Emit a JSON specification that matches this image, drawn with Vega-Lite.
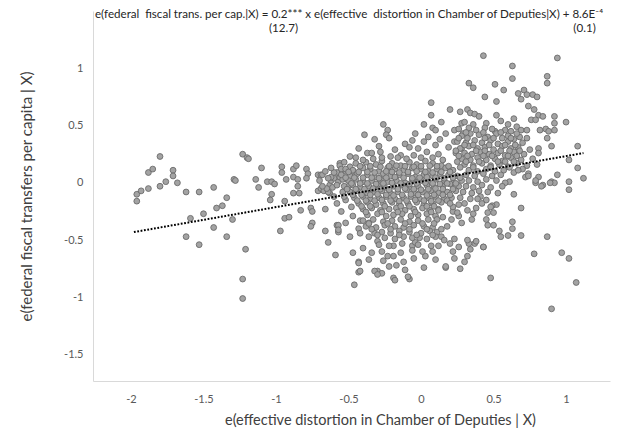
{
  "$schema": "https://vega.github.io/schema/vega-lite/v6.json",
  "width": 517,
  "height": 370,
  "autosize": {"type": "none"},
  "padding": {"left": 93, "top": 11, "right": 14, "bottom": 63},
  "background": "white",
  "config": {
    "view": {"stroke": null},
    "font": "Lato"
  },
  "title": {
    "text": "e(federal\u00a0 fiscal trans. per cap.|X) = 0.2*** x e(effective\u00a0 distortion in Chamber of Deputies|X) + 8.6E\u207b\u2074",
    "subtitle": "\u200b\u2003\u2003\u2003\u2003\u2003\u2003\u2003\u2003\u2003\u2003\u2003\u2003\u2003\u2003\u2003\u2003\u2003\u2003\u2003\u2003(12.7)\u2003\u2003\u2003\u2003\u2003\u2003\u2003\u2003\u2003\u2003\u2003\u2003\u2003\u2003\u2003\u2003\u2003\u2003\u2003\u2003\u2003\u2003\u2003\u2003\u2003\u2003\u2003\u2003\u2003\u2003\u2003\u2002(0.1)",
    "anchor": "start",
    "frame": "group",
    "offset": 0,
    "dx": 2,
    "dy": 24,
    "font": "Lato",
    "fontSize": 11.6,
    "fontWeight": "normal",
    "color": "#262626",
    "subtitleFont": "Lato",
    "subtitleFontSize": 11.6,
    "subtitleColor": "#262626",
    "subtitlePadding": 3
  },
  "datasets": {
    "points": [
      {"x":-1.96,"y":-0.10},{"x":-1.96,"y":-0.16},{"x":-1.93,"y":-0.07},{"x":-1.88,"y":-0.05},{"x":-1.88,"y":0.09},{"x":-1.85,"y":0.12},{"x":-1.80,"y":0.23},{"x":-1.80,"y":-0.03},{"x":-1.76,"y":0.01},{"x":-1.71,"y":0.11},
      {"x":-1.71,"y":0.06},{"x":-1.68,"y":0.00},{"x":-1.62,"y":-0.08},{"x":-1.53,"y":-0.08},{"x":-1.43,"y":-0.04},{"x":-1.59,"y":-0.31},{"x":-1.50,"y":-0.27},{"x":-1.62,"y":-0.47},{"x":-1.53,"y":-0.54},{"x":-1.43,"y":-0.39},
      {"x":-1.41,"y":-0.22},{"x":-1.37,"y":-0.20},{"x":-1.34,"y":-0.13},{"x":-1.34,"y":-0.47},{"x":-1.30,"y":-0.32},{"x":-1.29,"y":0.03},{"x":-1.28,"y":0.02},{"x":-1.23,"y":0.25},{"x":-1.20,"y":0.22},{"x":-1.19,"y":0.21},
      {"x":-1.21,"y":-0.58},{"x":-1.23,"y":-0.84},{"x":-1.23,"y":-1.01},{"x":-1.14,"y":0.03},{"x":-1.12,"y":-0.04},{"x":-1.10,"y":0.13},{"x":-1.06,"y":0.01},{"x":-1.03,"y":0.01},{"x":-1.01,"y":-0.01},{"x":-1.03,"y":-0.10},
      {"x":-1.04,"y":-0.15},{"x":-0.96,"y":0.14},{"x":-0.96,"y":0.09},{"x":-0.93,"y":0.03},{"x":-0.94,"y":-0.16},{"x":-0.94,"y":-0.31},{"x":-0.91,"y":-0.30},{"x":-0.97,"y":-0.42},{"x":-0.88,"y":0.12},{"x":-0.86,"y":0.15},
      {"x":-0.88,"y":0.05},{"x":-0.85,"y":0.03},{"x":-0.85,"y":-0.03},{"x":-0.88,"y":-0.09},{"x":-0.84,"y":-0.09},{"x":-0.83,"y":-0.24},{"x":-0.79,"y":0.12},{"x":-0.78,"y":0.08},{"x":-0.79,"y":0.04},{"x":-0.76,"y":-0.22},
      {"x":-0.75,"y":-0.25},{"x":-0.75,"y":-0.35},{"x":-0.76,"y":-0.38},{"x":-0.71,"y":0.07},{"x":-0.69,"y":0.07},{"x":-0.71,"y":-0.07},{"x":-0.69,"y":-0.05},{"x":-0.67,"y":-0.07},{"x":-0.66,"y":-0.23},{"x":-0.66,"y":-0.42},
      {"x":-0.64,"y":-0.52},{"x":-0.63,"y":-0.02},{"x":-0.62,"y":0.02},{"x":-0.60,"y":0.04},{"x":-0.56,"y":0.17},{"x":-0.58,"y":-0.37},{"x":-0.57,"y":-0.37},{"x":-0.57,"y":-0.43},{"x":-0.59,"y":-0.63},{"x":-0.63,"y":-0.09},
      {"x":-0.64,"y":-0.08},{"x":-0.49,"y":0.23},
      {"x":-0.68,"y":0.07},{"x":-0.65,"y":-0.05},{"x":-0.62,"y":0.05},{"x":-0.56,"y":0.15},{"x":-0.52,"y":0.10},{"x":-0.51,"y":0.03},{"x":-0.48,"y":0.07},{"x":-0.50,"y":-0.03},{"x":-0.47,"y":-0.09},{"x":-0.52,"y":-0.15},
      {"x":-0.48,"y":-0.21},{"x":-0.47,"y":-0.29},{"x":-0.42,"y":-0.33},{"x":-0.49,"y":-0.47},{"x":-0.47,"y":-0.61},{"x":-0.43,"y":-0.69},{"x":-0.46,"y":-0.89},{"x":-0.43,"y":-0.78},{"x":-0.55,"y":0.12},{"x":-0.58,"y":0.09},
      {"x":-0.54,"y":-0.08},{"x":-0.60,"y":-0.12},{"x":-0.55,"y":-0.25},{"x":-0.52,"y":-0.35},{"x":-0.57,"y":0.01},{"x":-0.53,"y":0.18},{"x":-0.49,"y":0.14},
      {"x":-0.70,"y":0.02},{"x":-0.68,"y":-0.03},{"x":-0.66,"y":0.10},{"x":-0.64,"y":0.04},{"x":-0.61,"y":-0.04},{"x":-0.60,"y":0.09},{"x":-0.58,"y":-0.02},{"x":-0.56,"y":0.05},{"x":-0.54,"y":0.03},{"x":-0.53,"y":-0.12},
      {"x":-0.58,"y":-0.18},{"x":-0.62,"y":0.13},
      {"x":-0.45,"y":0.17},{"x":-0.38,"y":0.18},{"x":-0.31,"y":0.16},{"x":-0.27,"y":0.19},{"x":-0.20,"y":0.17},{"x":-0.14,"y":0.15},{"x":-0.08,"y":0.18},{"x":-0.03,"y":0.16},{"x":0.03,"y":0.19},{"x":0.08,"y":0.17},{"x":0.14,"y":0.15},
      {"x":-0.52,"y":0.12},{"x":-0.47,"y":0.11},{"x":-0.40,"y":0.13},{"x":-0.35,"y":0.12},{"x":-0.29,"y":0.10},{"x":-0.23,"y":0.13},{"x":-0.18,"y":0.12},{"x":-0.12,"y":0.11},{"x":-0.06,"y":0.13},{"x":0.00,"y":0.12},{"x":0.05,"y":0.10},{"x":0.11,"y":0.12},{"x":0.17,"y":0.13},{"x":0.22,"y":0.11},
      {"x":-0.55,"y":0.07},{"x":-0.49,"y":0.06},{"x":-0.44,"y":0.08},{"x":-0.37,"y":0.07},{"x":-0.32,"y":0.05},{"x":-0.26,"y":0.08},{"x":-0.21,"y":0.06},{"x":-0.15,"y":0.07},{"x":-0.09,"y":0.08},{"x":-0.04,"y":0.05},{"x":0.02,"y":0.07},{"x":0.08,"y":0.06},{"x":0.13,"y":0.08},{"x":0.19,"y":0.07},{"x":0.25,"y":0.06},
      {"x":-0.50,"y":0.02},{"x":-0.45,"y":0.03},{"x":-0.40,"y":0.01},{"x":-0.34,"y":0.02},{"x":-0.28,"y":0.03},{"x":-0.23,"y":0.01},{"x":-0.17,"y":0.02},{"x":-0.11,"y":0.00},{"x":-0.06,"y":0.03},{"x":0.00,"y":0.02},{"x":0.05,"y":0.01},{"x":0.10,"y":0.03},{"x":0.16,"y":0.02},{"x":0.22,"y":0.00},{"x":0.28,"y":0.02},
      {"x":-0.53,"y":-0.03},{"x":-0.47,"y":-0.02},{"x":-0.42,"y":-0.04},{"x":-0.36,"y":-0.03},{"x":-0.30,"y":-0.02},{"x":-0.25,"y":-0.04},{"x":-0.19,"y":-0.03},{"x":-0.13,"y":-0.02},{"x":-0.08,"y":-0.04},{"x":-0.02,"y":-0.03},{"x":0.04,"y":-0.02},{"x":0.09,"y":-0.04},{"x":0.15,"y":-0.03},{"x":0.20,"y":-0.01},{"x":0.26,"y":-0.03},
      {"x":-0.49,"y":-0.08},{"x":-0.44,"y":-0.07},{"x":-0.38,"y":-0.09},{"x":-0.33,"y":-0.08},{"x":-0.27,"y":-0.07},{"x":-0.21,"y":-0.09},{"x":-0.16,"y":-0.08},{"x":-0.10,"y":-0.06},{"x":-0.04,"y":-0.09},{"x":0.01,"y":-0.08},{"x":0.07,"y":-0.07},{"x":0.12,"y":-0.09},{"x":0.18,"y":-0.08},{"x":0.24,"y":-0.07},
      {"x":-0.46,"y":-0.13},{"x":-0.40,"y":-0.12},{"x":-0.35,"y":-0.14},{"x":-0.29,"y":-0.13},{"x":-0.24,"y":-0.12},{"x":-0.18,"y":-0.14},{"x":-0.12,"y":-0.13},{"x":-0.07,"y":-0.12},{"x":-0.01,"y":-0.14},{"x":0.05,"y":-0.13},{"x":0.10,"y":-0.12},{"x":0.16,"y":-0.14},{"x":0.21,"y":-0.13},
      {"x":-0.43,"y":-0.18},{"x":-0.37,"y":-0.17},{"x":-0.31,"y":-0.19},{"x":-0.26,"y":-0.18},{"x":-0.20,"y":-0.17},{"x":-0.15,"y":-0.19},{"x":-0.09,"y":-0.18},{"x":-0.03,"y":-0.17},{"x":0.02,"y":-0.19},{"x":0.08,"y":-0.18},{"x":0.14,"y":-0.17},
      {"x":-0.40,"y":-0.23},{"x":-0.34,"y":-0.22},{"x":-0.28,"y":-0.24},{"x":-0.22,"y":-0.23},{"x":-0.17,"y":-0.22},{"x":-0.11,"y":-0.24},{"x":-0.05,"y":-0.23},{"x":0.01,"y":-0.22},{"x":0.06,"y":-0.24},{"x":0.12,"y":-0.23},
      {"x":-0.37,"y":-0.28},{"x":-0.30,"y":-0.27},{"x":-0.24,"y":-0.29},{"x":-0.19,"y":-0.28},{"x":-0.13,"y":-0.27},{"x":-0.07,"y":-0.29},{"x":-0.02,"y":-0.28},{"x":0.04,"y":-0.27},{"x":0.10,"y":-0.29},
      {"x":-0.28,"y":0.14},{"x":-0.17,"y":0.15},{"x":-0.05,"y":0.14},{"x":0.06,"y":0.15},{"x":-0.32,"y":0.09},{"x":-0.24,"y":0.10},{"x":-0.15,"y":0.09},{"x":-0.03,"y":0.10},{"x":0.08,"y":0.09},{"x":-0.29,"y":0.04},
      {"x":-0.18,"y":0.05},{"x":-0.06,"y":0.04},{"x":0.04,"y":0.05},{"x":0.16,"y":0.04},{"x":-0.31,"y":-0.01},{"x":-0.20,"y":0.00},{"x":-0.08,"y":-0.01},{"x":0.03,"y":0.00},{"x":0.13,"y":-0.01},{"x":-0.33,"y":-0.05},
      {"x":-0.22,"y":-0.06},{"x":-0.11,"y":-0.05},{"x":0.00,"y":-0.06},{"x":0.10,"y":-0.05},{"x":-0.30,"y":-0.10},{"x":-0.19,"y":-0.11},{"x":-0.07,"y":-0.10},{"x":0.04,"y":-0.11},{"x":-0.27,"y":-0.15},{"x":-0.15,"y":-0.16},
      {"x":-0.04,"y":-0.15},{"x":0.07,"y":-0.16},
      {"x":-0.42,"y":0.145},{"x":-0.35,"y":0.145},{"x":-0.22,"y":0.145},{"x":-0.11,"y":0.145},{"x":0.00,"y":0.145},{"x":0.11,"y":0.145},{"x":0.19,"y":0.145},
      {"x":-0.50,"y":0.095},{"x":-0.43,"y":0.095},{"x":-0.37,"y":0.095},{"x":-0.20,"y":0.095},{"x":-0.09,"y":0.095},{"x":0.03,"y":0.095},{"x":0.14,"y":0.095},{"x":0.20,"y":0.095},
      {"x":-0.52,"y":0.045},{"x":-0.46,"y":0.045},{"x":-0.40,"y":0.045},{"x":-0.34,"y":0.045},{"x":-0.24,"y":0.045},{"x":-0.12,"y":0.045},{"x":-0.01,"y":0.045},{"x":0.10,"y":0.045},{"x":0.22,"y":0.045},{"x":0.27,"y":0.045},
      {"x":-0.48,"y":-0.005},{"x":-0.42,"y":-0.005},{"x":-0.37,"y":-0.005},{"x":-0.26,"y":-0.005},{"x":-0.14,"y":-0.005},{"x":-0.03,"y":-0.005},{"x":0.08,"y":-0.005},{"x":0.18,"y":-0.005},{"x":0.24,"y":-0.005},
      {"x":-0.51,"y":-0.055},{"x":-0.45,"y":-0.055},{"x":-0.39,"y":-0.055},{"x":-0.28,"y":-0.055},{"x":-0.16,"y":-0.055},{"x":-0.05,"y":-0.055},{"x":0.05,"y":-0.055},{"x":0.15,"y":-0.055},{"x":0.22,"y":-0.055},
      {"x":-0.47,"y":-0.105},{"x":-0.41,"y":-0.105},{"x":-0.35,"y":-0.105},{"x":-0.24,"y":-0.105},{"x":-0.13,"y":-0.105},{"x":-0.02,"y":-0.105},{"x":0.09,"y":-0.105},{"x":0.15,"y":-0.105},{"x":0.20,"y":-0.105},
      {"x":-0.44,"y":-0.155},{"x":-0.38,"y":-0.155},{"x":-0.32,"y":-0.155},{"x":-0.21,"y":-0.155},{"x":-0.10,"y":-0.155},{"x":0.02,"y":-0.155},{"x":0.12,"y":-0.155},{"x":0.18,"y":-0.155},
      {"x":-0.41,"y":-0.205},{"x":-0.35,"y":-0.205},{"x":-0.25,"y":-0.205},{"x":-0.14,"y":-0.205},{"x":-0.08,"y":-0.205},{"x":0.04,"y":-0.205},{"x":0.09,"y":-0.205},
      {"x":-0.38,"y":-0.255},{"x":-0.27,"y":-0.255},{"x":-0.16,"y":-0.255},{"x":-0.04,"y":-0.255},{"x":0.07,"y":-0.255},
      {"x":-0.26,"y":0.51},{"x":-0.23,"y":0.46},{"x":-0.24,"y":0.42},{"x":-0.22,"y":0.39},{"x":-0.39,"y":0.42},{"x":-0.32,"y":0.38},{"x":-0.29,"y":0.32},{"x":-0.37,"y":0.26},{"x":-0.34,"y":0.26},{"x":-0.45,"y":0.22},
      {"x":-0.04,"y":0.43},{"x":0.02,"y":0.51},{"x":0.08,"y":0.48},{"x":0.10,"y":0.46},{"x":0.07,"y":0.70},{"x":0.07,"y":0.59},{"x":0.02,"y":0.36},{"x":0.05,"y":0.40},{"x":-0.11,"y":0.34},{"x":-0.08,"y":0.31},
      {"x":-0.14,"y":0.24},{"x":0.14,"y":0.53},{"x":0.20,"y":0.64},{"x":0.17,"y":0.43},{"x":0.23,"y":0.46},{"x":0.28,"y":0.52},{"x":0.29,"y":0.43},{"x":0.23,"y":0.36},{"x":0.19,"y":0.31},{"x":-0.40,"y":0.20},
      {"x":-0.33,"y":0.21},{"x":-0.27,"y":0.22},{"x":-0.21,"y":0.23},{"x":-0.16,"y":0.22},{"x":-0.10,"y":0.21},{"x":-0.05,"y":0.24},{"x":0.00,"y":0.22},{"x":0.04,"y":0.27},{"x":0.08,"y":0.22},{"x":0.12,"y":0.25},
      {"x":0.15,"y":0.20},{"x":-0.18,"y":0.29},{"x":-0.02,"y":0.30},{"x":0.10,"y":0.33},{"x":0.13,"y":0.38},{"x":-0.06,"y":0.37},{"x":-0.28,"y":0.27},{"x":-0.43,"y":0.30},{"x":0.24,"y":0.26},{"x":0.28,"y":0.30},
      {"x":0.27,"y":0.62},{"x":0.32,"y":0.64},{"x":0.34,"y":0.61},{"x":0.37,"y":0.60},{"x":0.40,"y":0.58},{"x":0.52,"y":0.59},{"x":0.64,"y":0.56},{"x":0.60,"y":0.51},{"x":0.66,"y":0.49},{"x":0.69,"y":0.46},
      {"x":0.73,"y":0.46},{"x":0.68,"y":0.40},{"x":0.73,"y":0.39},{"x":0.64,"y":0.38},{"x":0.58,"y":0.46},{"x":0.56,"y":0.39},{"x":0.51,"y":0.45},
      {"x":0.30,"y":0.53},{"x":0.36,"y":0.51},{"x":0.45,"y":0.52},{"x":0.55,"y":0.54},
      {"x":0.26,"y":0.47},{"x":0.33,"y":0.48},{"x":0.38,"y":0.46},{"x":0.44,"y":0.48},{"x":0.49,"y":0.47},{"x":0.62,"y":0.45},
      {"x":0.28,"y":0.41},{"x":0.34,"y":0.43},{"x":0.40,"y":0.42},{"x":0.46,"y":0.40},{"x":0.52,"y":0.43},{"x":0.60,"y":0.41},{"x":0.66,"y":0.43},
      {"x":0.25,"y":0.36},{"x":0.31,"y":0.35},{"x":0.37,"y":0.37},{"x":0.42,"y":0.35},{"x":0.48,"y":0.37},{"x":0.53,"y":0.34},{"x":0.60,"y":0.36},{"x":0.70,"y":0.35},
      {"x":0.27,"y":0.30},{"x":0.33,"y":0.32},{"x":0.39,"y":0.30},{"x":0.44,"y":0.31},{"x":0.50,"y":0.29},{"x":0.56,"y":0.32},{"x":0.62,"y":0.30},{"x":0.67,"y":0.31},{"x":0.75,"y":0.29},
      {"x":0.30,"y":0.26},{"x":0.35,"y":0.25},{"x":0.41,"y":0.27},{"x":0.47,"y":0.25},{"x":0.53,"y":0.26},{"x":0.58,"y":0.24},{"x":0.64,"y":0.27},{"x":0.71,"y":0.25},
      {"x":0.28,"y":0.21},{"x":0.34,"y":0.20},{"x":0.39,"y":0.22},{"x":0.45,"y":0.20},{"x":0.51,"y":0.21},{"x":0.56,"y":0.19},{"x":0.62,"y":0.22},{"x":0.69,"y":0.20},{"x":0.77,"y":0.21},
      {"x":0.30,"y":0.16},{"x":0.36,"y":0.15},{"x":0.42,"y":0.17},{"x":0.48,"y":0.15},{"x":0.54,"y":0.16},{"x":0.60,"y":0.14},{"x":0.66,"y":0.17},{"x":0.73,"y":0.15},{"x":0.80,"y":0.16},
      {"x":0.33,"y":0.11},{"x":0.39,"y":0.10},{"x":0.45,"y":0.12},{"x":0.51,"y":0.10},{"x":0.57,"y":0.11},{"x":0.64,"y":0.09},{"x":0.70,"y":0.12},
      {"x":0.31,"y":0.44},{"x":0.43,"y":0.44},{"x":0.55,"y":0.44},
      {"x":0.26,"y":0.39},{"x":0.32,"y":0.39},{"x":0.44,"y":0.39},{"x":0.50,"y":0.39},{"x":0.62,"y":0.39},
      {"x":0.30,"y":0.33},{"x":0.36,"y":0.33},{"x":0.47,"y":0.33},{"x":0.58,"y":0.33},{"x":0.65,"y":0.33},
      {"x":0.24,"y":0.28},{"x":0.38,"y":0.28},{"x":0.44,"y":0.28},{"x":0.55,"y":0.28},{"x":0.61,"y":0.28},{"x":0.68,"y":0.28},
      {"x":0.26,"y":0.235},{"x":0.32,"y":0.235},{"x":0.43,"y":0.235},{"x":0.49,"y":0.235},{"x":0.60,"y":0.235},{"x":0.66,"y":0.235},
      {"x":0.25,"y":0.185},{"x":0.31,"y":0.185},{"x":0.40,"y":0.185},{"x":0.53,"y":0.185},{"x":0.58,"y":0.185},{"x":0.64,"y":0.185},
      {"x":0.27,"y":0.135},{"x":0.36,"y":0.135},{"x":0.48,"y":0.135},{"x":0.61,"y":0.135},
      {"x":0.43,"y":1.11},{"x":0.94,"y":1.09},{"x":0.63,"y":1.02},{"x":0.87,"y":0.93},{"x":0.63,"y":0.91},{"x":0.87,"y":0.87},{"x":0.33,"y":0.87},{"x":0.36,"y":0.83},{"x":0.51,"y":0.86},{"x":0.57,"y":0.81},
      {"x":0.44,"y":0.75},{"x":0.52,"y":0.71},{"x":0.67,"y":0.78},{"x":0.71,"y":0.81},{"x":0.69,"y":0.73},{"x":0.73,"y":0.77},{"x":0.77,"y":0.77},{"x":0.80,"y":0.75},{"x":0.74,"y":0.67},{"x":0.78,"y":0.64},
      {"x":0.81,"y":0.59},{"x":0.84,"y":0.58},{"x":0.76,"y":0.55},{"x":0.79,"y":0.55},{"x":0.92,"y":0.58},{"x":1.00,"y":0.53},{"x":0.92,"y":0.52},{"x":0.86,"y":0.47},{"x":0.82,"y":0.46},{"x":0.88,"y":0.45},
      {"x":0.92,"y":0.46},{"x":0.87,"y":0.39},{"x":0.90,"y":0.32},{"x":0.81,"y":0.30},{"x":0.81,"y":0.26},{"x":1.08,"y":0.32},{"x":1.02,"y":0.20},{"x":1.08,"y":0.13},{"x":1.12,"y":0.04},{"x":1.02,"y":0.01},
      {"x":1.02,"y":-0.06},{"x":0.94,"y":0.07},{"x":0.90,"y":0.01},{"x":0.92,"y":0.00},{"x":0.84,"y":-0.02},{"x":0.79,"y":0.00},{"x":0.81,"y":0.05},{"x":0.74,"y":0.08},{"x":0.72,"y":0.05},{"x":0.67,"y":0.11},
      {"x":0.64,"y":-0.10},{"x":0.61,"y":0.01},{"x":0.69,"y":-0.22},{"x":0.53,"y":-0.09},{"x":0.52,"y":-0.19},{"x":0.49,"y":-0.20},{"x":0.46,"y":-0.26},{"x":0.63,"y":-0.34},{"x":0.63,"y":-0.40},{"x":0.69,"y":-0.46},
      {"x":0.60,"y":-0.46},{"x":0.55,"y":-0.47},{"x":0.87,"y":-0.47},{"x":0.78,"y":-0.62},{"x":0.97,"y":-0.61},{"x":1.02,"y":-0.66},{"x":1.07,"y":-0.87},{"x":0.90,"y":-1.10},{"x":0.48,"y":-0.83},{"x":0.43,"y":-0.56},
      {"x":0.37,"y":-0.53},{"x":0.33,"y":-0.53},{"x":0.27,"y":-0.75},{"x":0.17,"y":-0.74},{"x":0.30,"y":-0.69},{"x":0.32,"y":-0.64},{"x":-0.08,"y":-0.84},{"x":-0.19,"y":-0.83},{"x":-0.30,"y":-0.77},{"x":-0.27,"y":-0.79},
      {"x":0.89,"y":0.00},{"x":0.83,"y":-0.03},{"x":0.79,"y":0.02},{"x":0.74,"y":0.06},
      {"x":-0.57,"y":-0.41},{"x":-0.43,"y":-0.40},{"x":-0.42,"y":-0.44},{"x":-0.36,"y":-0.35},{"x":-0.36,"y":-0.47},{"x":-0.32,"y":-0.44},{"x":-0.30,"y":-0.51},{"x":-0.40,"y":-0.57},{"x":-0.34,"y":-0.61},{"x":-0.43,"y":-0.70},
      {"x":-0.42,"y":-0.77},{"x":-0.32,"y":-0.77},{"x":-0.30,"y":-0.80},{"x":-0.23,"y":-0.64},{"x":-0.19,"y":-0.55},{"x":-0.19,"y":-0.64},{"x":-0.17,"y":-0.72},{"x":-0.12,"y":-0.69},{"x":-0.11,"y":-0.76},{"x":-0.09,"y":-0.82},
      {"x":-0.18,"y":-0.85},{"x":-0.06,"y":-0.55},{"x":-0.04,"y":-0.52},{"x":-0.01,"y":-0.48},{"x":0.03,"y":-0.64},{"x":0.07,"y":-0.55},{"x":0.08,"y":-0.60},{"x":0.14,"y":-0.47},{"x":0.16,"y":-0.50},{"x":0.20,"y":-0.53},
      {"x":0.23,"y":-0.49},{"x":0.22,"y":-0.60},{"x":0.26,"y":-0.56},{"x":0.23,"y":-0.66},{"x":0.17,"y":-0.73},{"x":0.11,"y":-0.32},{"x":0.15,"y":-0.30},{"x":0.12,"y":-0.24},{"x":0.22,"y":-0.25},{"x":0.26,"y":-0.29},
      {"x":0.28,"y":-0.35},{"x":0.21,"y":-0.32},
      {"x":-0.40,"y":-0.33},{"x":-0.33,"y":-0.32},{"x":-0.26,"y":-0.34},{"x":-0.20,"y":-0.33},{"x":-0.14,"y":-0.32},{"x":-0.08,"y":-0.34},{"x":-0.02,"y":-0.33},{"x":0.05,"y":-0.32},
      {"x":-0.38,"y":-0.38},{"x":-0.31,"y":-0.39},{"x":-0.25,"y":-0.37},{"x":-0.18,"y":-0.38},{"x":-0.12,"y":-0.39},{"x":-0.05,"y":-0.37},{"x":0.02,"y":-0.38},{"x":0.08,"y":-0.39},{"x":0.18,"y":-0.38},
      {"x":-0.27,"y":-0.43},{"x":-0.21,"y":-0.44},{"x":-0.15,"y":-0.42},{"x":-0.08,"y":-0.43},{"x":0.00,"y":-0.44},{"x":0.06,"y":-0.42},{"x":0.11,"y":-0.43},
      {"x":-0.25,"y":-0.48},{"x":-0.18,"y":-0.49},{"x":-0.12,"y":-0.47},{"x":-0.06,"y":-0.48},{"x":0.04,"y":-0.49},{"x":0.10,"y":-0.47},
      {"x":-0.29,"y":-0.54},{"x":-0.22,"y":-0.55},{"x":-0.13,"y":-0.53},{"x":-0.02,"y":-0.54},{"x":0.12,"y":-0.55},
      {"x":-0.27,"y":-0.60},{"x":-0.14,"y":-0.61},{"x":-0.06,"y":-0.59},{"x":0.01,"y":-0.60},
      {"x":-0.36,"y":-0.67},{"x":-0.26,"y":-0.68},{"x":-0.05,"y":-0.66},{"x":0.10,"y":-0.67},
      {"x":-0.22,"y":-0.73},{"x":0.02,"y":-0.74},
      {"x":-0.36,"y":-0.355},{"x":-0.23,"y":-0.355},{"x":-0.11,"y":-0.355},{"x":0.01,"y":-0.355},{"x":0.09,"y":-0.355},
      {"x":-0.34,"y":-0.405},{"x":-0.21,"y":-0.405},{"x":-0.08,"y":-0.405},{"x":0.04,"y":-0.405},{"x":0.14,"y":-0.405},
      {"x":-0.30,"y":-0.455},{"x":-0.15,"y":-0.455},{"x":-0.03,"y":-0.455},{"x":0.08,"y":-0.455},
      {"x":0.41,"y":-0.12},{"x":0.45,"y":-0.15},{"x":0.48,"y":-0.21},{"x":0.50,"y":-0.26},{"x":0.45,"y":-0.32},{"x":0.46,"y":-0.37},{"x":0.50,"y":-0.37},{"x":0.54,"y":-0.42},{"x":0.35,"y":-0.32},{"x":0.36,"y":-0.27},
      {"x":0.38,"y":-0.22},{"x":0.32,"y":-0.24},{"x":0.30,"y":-0.18},{"x":0.34,"y":-0.14},{"x":0.22,"y":-0.21},{"x":0.25,"y":-0.26},{"x":0.32,"y":-0.50},{"x":0.38,"y":-0.51},{"x":0.34,"y":-0.58},{"x":0.43,"y":-0.56},
      {"x":0.31,"y":0.07},{"x":0.37,"y":0.06},{"x":0.43,"y":0.08},{"x":0.49,"y":0.06},{"x":0.55,"y":0.07},
      {"x":0.33,"y":0.02},{"x":0.39,"y":0.01},{"x":0.45,"y":0.03},{"x":0.52,"y":0.02},{"x":0.58,"y":0.00},
      {"x":0.31,"y":-0.03},{"x":0.36,"y":-0.04},{"x":0.42,"y":-0.02},{"x":0.48,"y":-0.04},{"x":0.56,"y":-0.03},
      {"x":0.29,"y":-0.08},{"x":0.35,"y":-0.09},{"x":0.40,"y":-0.07},{"x":0.46,"y":-0.08},
      {"x":0.27,"y":-0.13},{"x":0.39,"y":-0.14},
      {"x":0.20,"y":-0.18},{"x":0.26,"y":-0.19},{"x":0.42,"y":-0.18}
    ],
    "trend": [
      {"x":-1.98,"y":-0.43},
      {"x":1.12,"y":0.26}
    ]
  },
  "layer": [
    {
      "data": {"name": "points"},
      "mark": {"type": "point", "shape": "circle", "filled": true, "size": 34, "fill": "#a3a3a3", "stroke": "#6b6b6b", "strokeWidth": 0.9, "opacity": 1},
      "encoding": {
        "x": {
          "field": "x",
          "type": "quantitative",
          "scale": {"domain": [-2.262, 1.303], "nice": false, "zero": false},
          "axis": {
            "values": [-2, -1.5, -1, -0.5, 0, 0.5, 1],
            "labelExpr": "'' + datum.value",
            "title": "e(effective distortion in Chamber of Deputies | X)",
            "grid": false,
            "ticks": false,
            "domainColor": "#d9d9d9",
            "domainWidth": 1,
            "labelFont": "Lato",
            "labelFontSize": 11,
            "labelColor": "#595959",
            "labelPadding": 12,
            "titleFont": "Lato",
            "titleFontSize": 14.5,
            "titleFontWeight": "normal",
            "titleColor": "#404040",
            "titlePadding": 9,
            "titleX": 287,
            "titleAlign": "center"
          }
        },
        "y": {
          "field": "y",
          "type": "quantitative",
          "scale": {"domain": [-1.73, 1.5], "nice": false, "zero": false},
          "axis": {
            "values": [-1.5, -1, -0.5, 0, 0.5, 1],
            "labelExpr": "'' + datum.value",
            "title": "e(federal fiscal transfers per capita | X)",
            "grid": false,
            "ticks": false,
            "domainColor": "#d9d9d9",
            "domainWidth": 1,
            "labelFont": "Lato",
            "labelFontSize": 11,
            "labelColor": "#595959",
            "labelPadding": 10,
            "titleFont": "Lato",
            "titleFontSize": 15,
            "titleFontWeight": "normal",
            "titleColor": "#404040",
            "titlePadding": 29
          }
        }
      }
    },
    {
      "data": {"name": "trend"},
      "mark": {"type": "line", "color": "black", "strokeWidth": 2, "strokeDash": [1.8, 1.6]},
      "encoding": {
        "x": {"field": "x", "type": "quantitative"},
        "y": {"field": "y", "type": "quantitative"}
      }
    }
  ]
}
